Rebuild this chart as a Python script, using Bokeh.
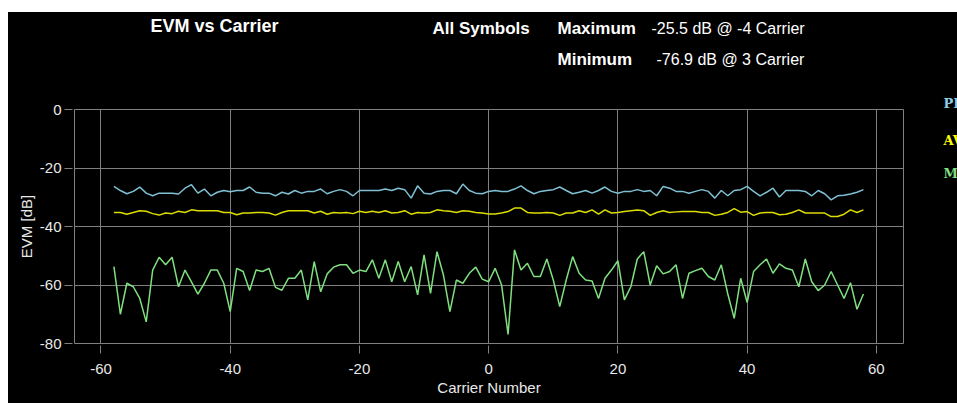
import numpy as np
from bokeh.plotting import figure
from bokeh.models import FixedTicker, Spacer
from bokeh.layouts import column, row
from bokeh.core.properties import value
from bokeh.embed import file_html
from bokeh.resources import INLINE

# ---------------- data ----------------
carriers = list(range(-58, 59))

pk = [-26.3, -27.7, -28.8, -28.0, -26.5, -28.6, -29.5, -28.6, -28.6, -28.6,
      -28.9, -26.9, -25.7, -28.6, -27.2, -29.5, -28.3, -27.7, -28.1, -27.7,
      -27.7, -26.5, -28.3, -28.6, -28.6, -29.5, -28.3, -28.9, -27.7, -28.6,
      -28.0, -28.0, -27.2, -28.8, -28.0, -27.4, -28.0, -29.5, -27.7, -27.7,
      -27.7, -27.7, -27.2, -27.7, -26.9, -27.4, -30.3, -26.1, -28.6, -28.9,
      -28.0, -27.7, -27.7, -28.8, -25.5, -27.7, -28.6, -28.8,
      -28.0, -27.7, -28.0, -28.0, -27.2, -26.1, -27.7, -28.8, -28.0, -27.7,
      -27.4, -26.5, -27.7, -28.8, -28.3, -27.7, -28.6, -27.7, -26.5, -28.0,
      -28.6, -28.0, -28.0, -27.4, -28.0, -27.7, -29.5, -26.3, -26.9, -28.0,
      -28.0, -28.6, -28.0, -27.4, -28.0, -30.3, -27.7, -29.5, -27.7, -27.4,
      -26.3, -28.0, -29.5, -28.3, -26.9, -29.9, -27.7, -27.7, -27.7, -28.0,
      -29.5, -27.7, -28.8, -30.9, -29.5, -29.3, -28.9, -28.3, -27.4]

av = [-35.2, -35.2, -35.8, -35.2, -34.6, -34.8, -35.6, -36.1, -35.4, -35.6,
      -34.8, -35.2, -34.3, -34.6, -34.6, -34.6, -34.6, -35.2, -35.2, -36.0,
      -35.4, -35.4, -35.2, -35.2, -35.4, -36.1, -35.2, -34.6, -34.6, -34.6,
      -34.6, -35.4, -34.8, -35.8, -35.2, -35.4, -35.2, -35.6, -34.8, -35.2,
      -34.8, -35.2, -34.6, -35.4, -35.2, -34.6, -35.8, -35.2, -35.4, -35.2,
      -34.3, -34.6, -34.8, -35.2, -34.6, -34.8, -35.2, -35.4,
      -35.7, -35.7, -35.4, -34.9, -33.7, -33.7, -35.2, -35.4, -35.4, -35.2,
      -35.4, -36.2, -35.4, -35.4, -34.6, -35.2, -34.3, -35.8, -34.3, -35.4,
      -35.2, -34.9, -34.6, -34.4, -34.6, -36.2, -35.2, -34.6, -35.2, -35.0,
      -34.9, -34.9, -34.9, -35.2, -35.2, -36.2, -35.8, -35.2, -33.9, -35.1,
      -34.9, -36.2, -35.4, -35.2, -35.2, -36.0, -35.8, -35.2, -34.3, -35.4,
      -35.4, -35.4, -35.4, -36.6, -36.6, -35.8, -34.3, -35.2, -34.3]

mi = [-53.7, -70.0, -59.4, -60.6, -64.6, -72.6, -54.9, -50.5, -53.1, -50.5,
      -60.6, -54.9, -58.9, -63.1, -59.4, -54.9, -54.9, -59.4, -69.1, -54.3,
      -55.4, -61.9, -54.9, -55.4, -54.3, -60.8, -61.8, -57.7, -57.7, -54.9,
      -65.1, -52.0, -62.3, -56.2, -53.9, -53.1, -53.1, -56.0, -54.9, -55.4,
      -51.4, -57.7, -51.4, -58.9, -52.0, -58.9, -53.7, -63.4, -49.7, -62.9,
      -48.6, -56.6, -69.1, -58.3, -59.4, -56.0, -53.9, -58.0,
      -58.9, -54.3, -60.0, -76.9, -48.0, -54.9, -52.6, -57.1, -57.1, -51.1,
      -58.3, -67.4, -58.3, -50.3, -56.0, -58.3, -58.6, -64.6, -57.7, -54.9,
      -51.7, -65.1, -60.6, -51.1, -48.6, -60.0, -53.4, -56.2, -55.4, -53.1,
      -64.6, -56.0, -55.1, -54.3, -57.1, -58.3, -53.1, -63.0, -71.4, -57.7,
      -66.0, -55.4, -53.1, -51.1, -56.0, -52.8, -54.3, -54.9, -60.6, -51.1,
      -58.9, -61.9, -60.0, -55.4, -60.0, -64.6, -59.2, -68.3, -63.1]

x_ticks = [-60, -40, -20, 0, 20, 40, 60]
x_tick_labels = ["-60", "-40", "-20", "0", "20", "40", "60"]
y_ticks = [-80, -60, -40, -20, 0]
y_tick_labels = ["-80", "-60", "-40", "-20", "0"]
legend_names = ["PK", "AV", "MI"]
series_colors = ["#80c0d4", "#dcdc00", "#80e080"]
legend_colors = ["#90cce4", "#ffff00", "#80e080"]

# ---------------- styling / geometry (page pixels) ----------------
GRAY = "#808080"
TXT = "#e8e8e8"
FONT = "Liberation Sans"
BG = "black"

LEFT_PAD, TOP_PAD = 8, 12
MAIN_W, LEG_W = 922, 27
HEAD_H, MAIN_H = 87, 304
BORDER_L, BORDER_R = 66, 27           # frame: page x 74 .. 903
PAGE_X0 = LEFT_PAD + BORDER_L
PAGE_X1 = LEFT_PAD + MAIN_W - BORDER_R

# ---------------- header figure ----------------
head = figure(width=MAIN_W, height=HEAD_H,
              x_range=(PAGE_X0, PAGE_X1), y_range=(TOP_PAD + HEAD_H, TOP_PAD),
              output_backend="svg", toolbar_location=None,
              x_axis_type=None, y_axis_type=None,
              min_border_left=BORDER_L, min_border_right=BORDER_R,
              min_border_top=0, min_border_bottom=0,
              background_fill_color=BG, border_fill_color=BG, outline_line_color=None)

imax = int(np.argmax(pk))
imin = int(np.argmin(mi))
max_text = f"{pk[imax]:.1f} dB @ {carriers[imax]} Carrier"
min_text = f"{mi[imin]:.1f} dB @ {carriers[imin]} Carrier"

head.text(x=[150], y=[25], text=["EVM vs Carrier"],
          text_color="white", text_font=value(FONT), text_font_size="18px",
          text_font_style="bold", text_align="left", text_baseline="middle")
head.text(x=[432, 557, 557], y=[28, 28, 59], text=["All Symbols", "Maximum", "Minimum"],
          text_color="white", text_font=value(FONT), text_font_size="17px",
          text_font_style="bold", text_align="left", text_baseline="middle")
head.text(x=[651, 656], y=[28, 59], text=[max_text, min_text],
          text_color="white", text_font=value(FONT), text_font_size="16px",
          text_font_style="normal", text_align="left", text_baseline="middle")

# ---------------- main figure ----------------
X0, X1 = -64.1, 64.2
p = figure(width=MAIN_W, height=MAIN_H, x_range=(X0, X1), y_range=(-80, 0),
           output_backend="svg", toolbar_location=None,
           min_border_left=BORDER_L, min_border_right=BORDER_R,
           min_border_top=10, min_border_bottom=60,
           background_fill_color=BG, border_fill_color=BG,
           outline_line_color=GRAY, outline_line_width=1)

for ax in (p.xaxis[0], p.yaxis[0]):
    ax.axis_line_color = None
    ax.major_tick_line_color = GRAY
    ax.major_tick_in = -2
    ax.major_tick_out = 10
    ax.minor_tick_line_color = None
    ax.major_label_text_color = TXT
    ax.major_label_text_font = FONT
    ax.major_label_text_font_size = "15px"
    ax.axis_label_text_color = TXT
    ax.axis_label_text_font = FONT
    ax.axis_label_text_font_size = "15px"
    ax.axis_label_text_font_style = "normal"

p.xaxis.ticker = FixedTicker(ticks=x_ticks)
p.xaxis.major_label_overrides = dict(zip(x_ticks, x_tick_labels))
p.yaxis.ticker = FixedTicker(ticks=y_ticks)
p.yaxis.major_label_overrides = dict(zip(y_ticks, y_tick_labels))
p.xaxis.axis_label = "Carrier Number"
p.yaxis.axis_label = "EVM [dB]"
p.xaxis.major_label_standoff = 10
p.yaxis.major_label_standoff = 3
p.xaxis.axis_label_standoff = 2
p.yaxis.axis_label_standoff = 2

p.grid.grid_line_color = GRAY
p.grid.grid_line_width = 1

for ys, col in zip([pk, av, mi], series_colors):
    p.line(carriers, ys, line_color=col, line_width=1.5)

# ---------------- legend strip ----------------
LEG_H = HEAD_H + MAIN_H
LEG_X0 = LEFT_PAD + MAIN_W
leg = figure(width=LEG_W, height=LEG_H,
             x_range=(LEG_X0, LEG_X0 + LEG_W), y_range=(TOP_PAD + LEG_H, TOP_PAD),
             output_backend="svg", toolbar_location=None,
             x_axis_type=None, y_axis_type=None, min_border=0,
             background_fill_color=BG, border_fill_color=BG, outline_line_color=None)
leg.text(x=[943, 943, 943], y=[103, 140, 173], text=legend_names,
         text_color=legend_colors, text_font=value("DejaVu Serif"), text_font_size="13px",
         text_font_style="bold", text_align="left", text_baseline="middle")

black_block = row(column(head, p), leg, styles={"background-color": "black"})
layout = row(Spacer(width=LEFT_PAD, height=10),
             column(Spacer(width=MAIN_W + LEG_W, height=TOP_PAD), black_block))
open("out.html", "w").write(file_html(layout, INLINE))
